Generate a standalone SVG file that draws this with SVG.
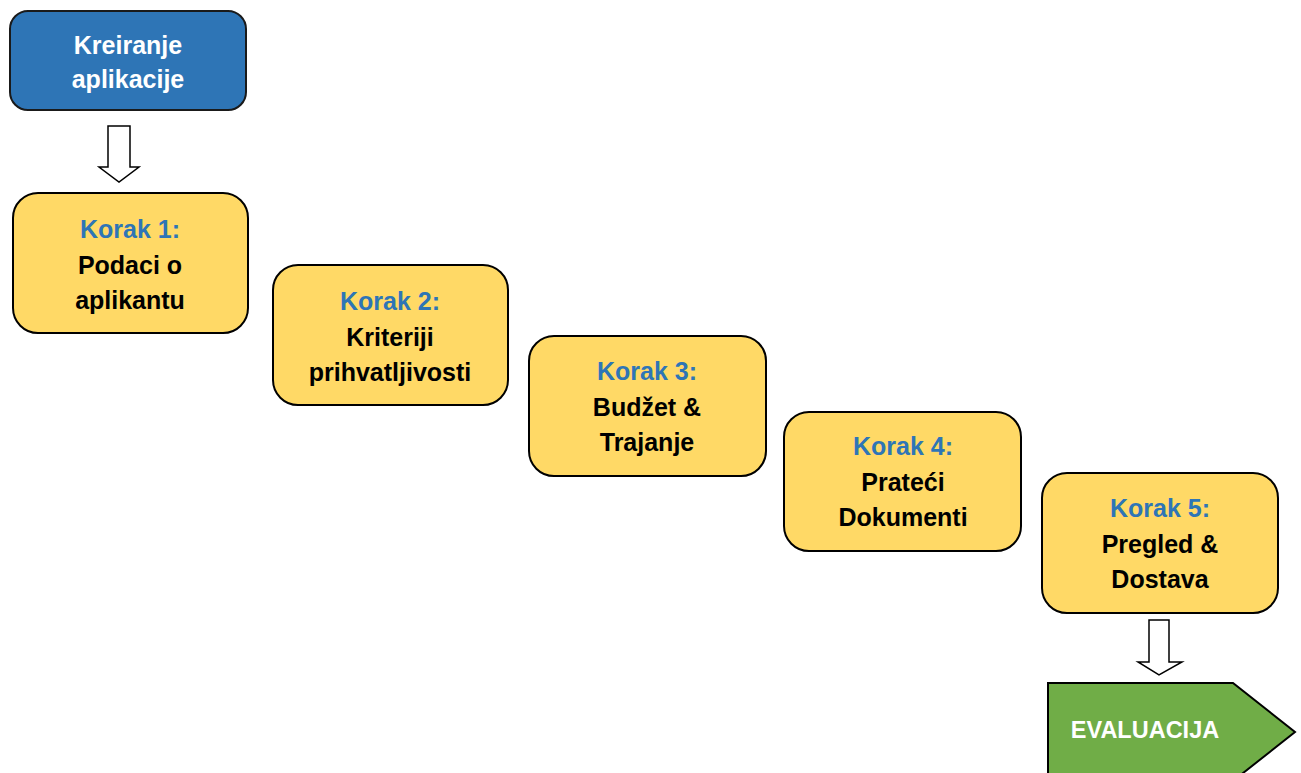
<svg xmlns="http://www.w3.org/2000/svg" width="1301" height="773" viewBox="0 0 1301 773">
<style>
.box{fill:#FFD966;stroke:#000;stroke-width:2}
.start{fill:#2E75B6;stroke:#1a1a1a;stroke-width:2}
.end{fill:#70AD47;stroke:#000;stroke-width:2}
.arr{fill:#fff;stroke:#000;stroke-width:1.5;stroke-linejoin:miter}
text{font-family:"Liberation Sans",Arial,sans-serif;font-weight:bold;font-size:25px;text-anchor:middle}
.k{fill:#2E75B6}
.t{fill:#000}
.w{fill:#fff}
.ev{font-size:23.5px}
</style>
<rect width="1301" height="773" fill="#fff"/>
<g id="start">
<rect class="start" x="10" y="11" width="236" height="99" rx="18"/>
<text class="w" x="128" y="54">Kreiranje</text>
<text class="w" x="128" y="88">aplikacije</text>
</g>
<g id="connectors">
<polygon class="arr" points="108,126 130,126 130,167 139,167 119,182 99,167 108,167"/>
<polygon class="arr" points="1149,620 1169,620 1169,662 1182,662 1159,675 1138,662 1149,662"/>
</g>
<g id="step1">
<rect class="box" x="13" y="193" width="235" height="140" rx="25"/>
<text class="k" x="130" y="238">Korak 1:</text>
<text class="t" x="130" y="274">Podaci o</text>
<text class="t" x="130" y="309">aplikantu</text>
</g>
<g id="step2">
<rect class="box" x="273" y="265" width="235" height="140" rx="25"/>
<text class="k" x="390" y="310">Korak 2:</text>
<text class="t" x="390" y="346">Kriteriji</text>
<text class="t" x="390" y="381">prihvatljivosti</text>
</g>
<g id="step3">
<rect class="box" x="529" y="336" width="237" height="140" rx="25"/>
<text class="k" x="647" y="380">Korak 3:</text>
<text class="t" x="647" y="416">Budžet &amp;</text>
<text class="t" x="647" y="451">Trajanje</text>
</g>
<g id="step4">
<rect class="box" x="784" y="412" width="237" height="139" rx="25"/>
<text class="k" x="903" y="455">Korak 4:</text>
<text class="t" x="903" y="491">Prateći</text>
<text class="t" x="903" y="526">Dokumenti</text>
</g>
<g id="step5">
<rect class="box" x="1042" y="473" width="236" height="140" rx="25"/>
<text class="k" x="1160" y="517">Korak 5:</text>
<text class="t" x="1160" y="553">Pregled &amp;</text>
<text class="t" x="1160" y="588">Dostava</text>
</g>
<g id="evaluacija">
<polygon class="end" points="1048,683 1233,683 1295,732 1233,781 1048,781"/>
<text class="w ev" x="1145" y="738">EVALUACIJA</text>
</g>
</svg>
